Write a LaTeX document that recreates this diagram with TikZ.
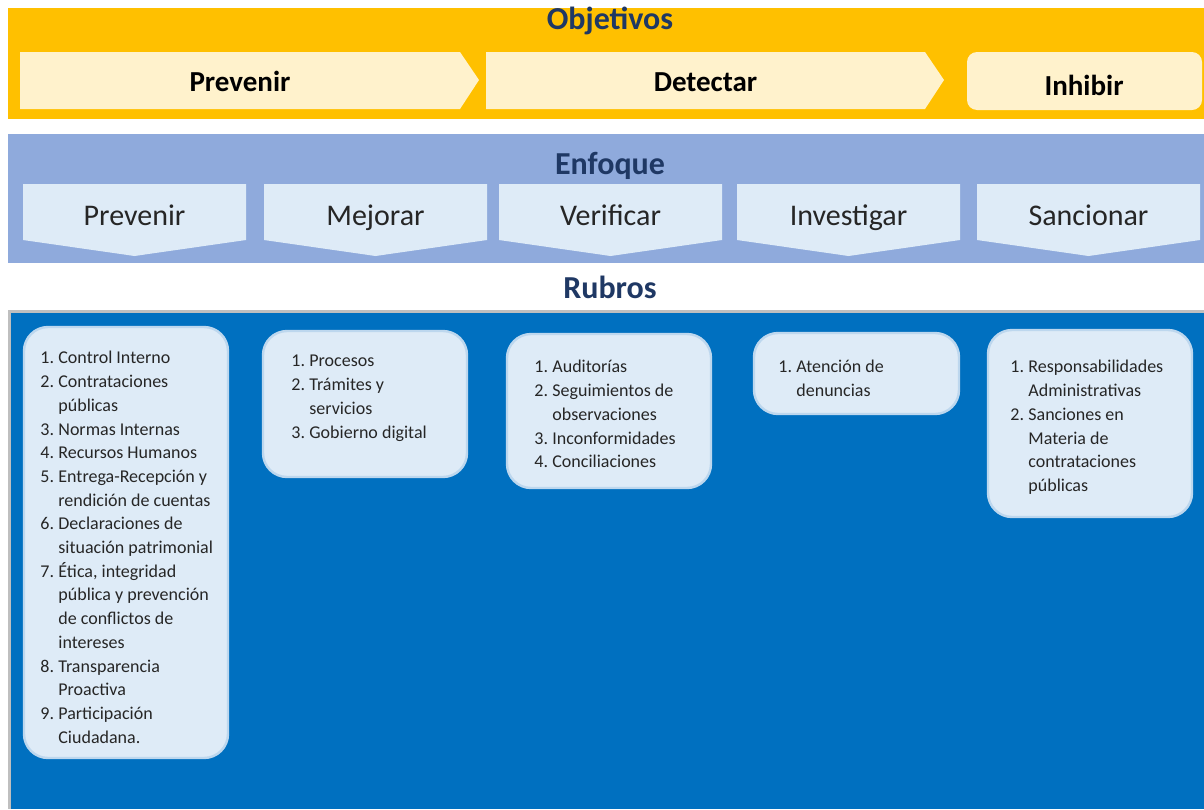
\documentclass[tikz,border=0pt]{standalone}
\usepackage{fontspec}
\setmainfont{Carlito}
\usepackage{tikz}
\usetikzlibrary{positioning}

\definecolor{objBand}{HTML}{FFC000}
\definecolor{objFill}{HTML}{FFF2CC}
\definecolor{enfBand}{HTML}{8FAADC}
\definecolor{enfFill}{HTML}{DEEBF7}
\definecolor{rubBand}{HTML}{0070C0}
\definecolor{rubEdge}{HTML}{BFBFBF}
\definecolor{boxFill}{HTML}{DEEBF7}
\definecolor{boxEdge}{HTML}{BDD7EE}
\definecolor{titleBlue}{HTML}{1F3864}
\definecolor{textGray}{HTML}{262626}

\newcommand{\rubroNum}[1]{\makebox[9pt][l]{#1.}}
\newcommand{\rubroCont}{\hspace*{9pt}}

\begin{document}
\begin{tikzpicture}
[x=0.5pt,y=-0.5pt,
  titleDecorate/.style={anchor=base,font=\fontsize{16}{19}\selectfont\bfseries,text=titleBlue},
  objDecorate/.style={anchor=base,font=\fontsize{14.5}{17}\selectfont\bfseries,text=black},
  enfDecorate/.style={anchor=base,font=\fontsize{15}{18}\selectfont,text=textGray},
  boxDecorate/.style={rounded corners=12pt,fill=boxFill,draw=boxEdge,line width=1.2pt},
  listDecorate/.style={anchor=north west,inner sep=0pt,align=left,
    font=\fontsize{9}{11.85}\selectfont,text=textGray}]
\useasboundingbox (0,0) rectangle (1204,809);
%%
%%%%%%%%%%%%%%%%%%%%%%%%%%%%%%%%%%%%%%%%%%%%%%%%%%%%%%%%%%%%%%%%%%%%%%%%%%%
%%
%% objetivos
\fill[objBand] (8,8) rectangle (1204,119);
\node (objetivos) at (610,29) [titleDecorate] {Objetivos};
\foreach \nodename/\xa/\xb/\label in {
  objA/20/479/Prevenir, objB/486/944/Detectar}
{
  \fill[objFill] (\xa,52) -- (\xb-19,52) -- (\xb,80) -- (\xb-19,109) -- (\xa,109) -- cycle;
  \node (\nodename) at ({(\xa+\xb-19)/2},91) [objDecorate] {\label};
}
\fill[objFill,rounded corners=5pt] (967,52) rectangle (1202,110);
\node (objC) at (1084,95) [objDecorate] {Inhibir};
%%
%%%%%%%%%%%%%%%%%%%%%%%%%%%%%%%%%%%%%%%%%%%%%%%%%%%%%%%%%%%%%%%%%%%%%%%%%%%
%%
%% enfoque
\fill[enfBand] (8,134) rectangle (1204,263);
\node (enfoque) at (610,174) [titleDecorate] {Enfoque};
\foreach \nodename/\xa/\label in {
  enfA/23/Prevenir, enfB/264/Mejorar, enfC/499/Verificar,
  enfD/737/Investigar, enfE/977/Sancionar}
{
  \fill[enfFill] (\xa,184) -- (\xa+223,184) -- (\xa+223,240) -- (\xa+111.5,256)
    -- (\xa,240) -- cycle;
  \node (\nodename) at (\xa+111.5,225) [enfDecorate] {\label};
}
%%
%%%%%%%%%%%%%%%%%%%%%%%%%%%%%%%%%%%%%%%%%%%%%%%%%%%%%%%%%%%%%%%%%%%%%%%%%%%
%%
%% rubros
\node (rubros) at (610,298) [titleDecorate] {Rubros};
\fill[rubEdge] (8,310) rectangle (1204,809);
\fill[rubBand] (11,313) rectangle (1204,809);
%% boxes
\foreach \xa/\ya/\xb/\yb in {
  24/327/228/758, 263/331/467/477, 507/334/711/488,
  754/333/959/414, 988/330/1192/517}
{
  \path[boxDecorate] (\xa,\ya) rectangle (\xb,\yb);
}
%% lists
\node (lstA) at (40,351) [listDecorate] {%
  \rubroNum{1}Control Interno\\
  \rubroNum{2}Contrataciones\\
  \rubroCont públicas\\
  \rubroNum{3}Normas Internas\\
  \rubroNum{4}Recursos Humanos\\
  \rubroNum{5}Entrega-Recepción y\\
  \rubroCont rendición de cuentas\\
  \rubroNum{6}Declaraciones de\\
  \rubroCont situación patrimonial\\
  \rubroNum{7}Ética, integridad\\
  \rubroCont pública y prevención\\
  \rubroCont de conflictos de\\
  \rubroCont intereses\\
  \rubroNum{8}Transparencia\\
  \rubroCont Proactiva\\
  \rubroNum{9}Participación\\
  \rubroCont Ciudadana.};
\node (lstB) at (291,355) [listDecorate] {%
  \rubroNum{1}Procesos\\
  \rubroNum{2}Trámites y\\
  \rubroCont servicios\\
  \rubroNum{3}Gobierno digital};
\node (lstC) at (534,360) [listDecorate] {%
  \rubroNum{1}Auditorías\\
  \rubroNum{2}Seguimientos de\\
  \rubroCont observaciones\\
  \rubroNum{3}Inconformidades\\
  \rubroNum{4}Conciliaciones};
\node (lstD) at (778,360) [listDecorate] {%
  \rubroNum{1}Atención de\\
  \rubroCont denuncias};
\node (lstE) at (1010,360) [listDecorate] {%
  \rubroNum{1}Responsabilidades\\
  \rubroCont Administrativas\\
  \rubroNum{2}Sanciones en\\
  \rubroCont Materia de\\
  \rubroCont contrataciones\\
  \rubroCont públicas};
\end{tikzpicture}
\end{document}
